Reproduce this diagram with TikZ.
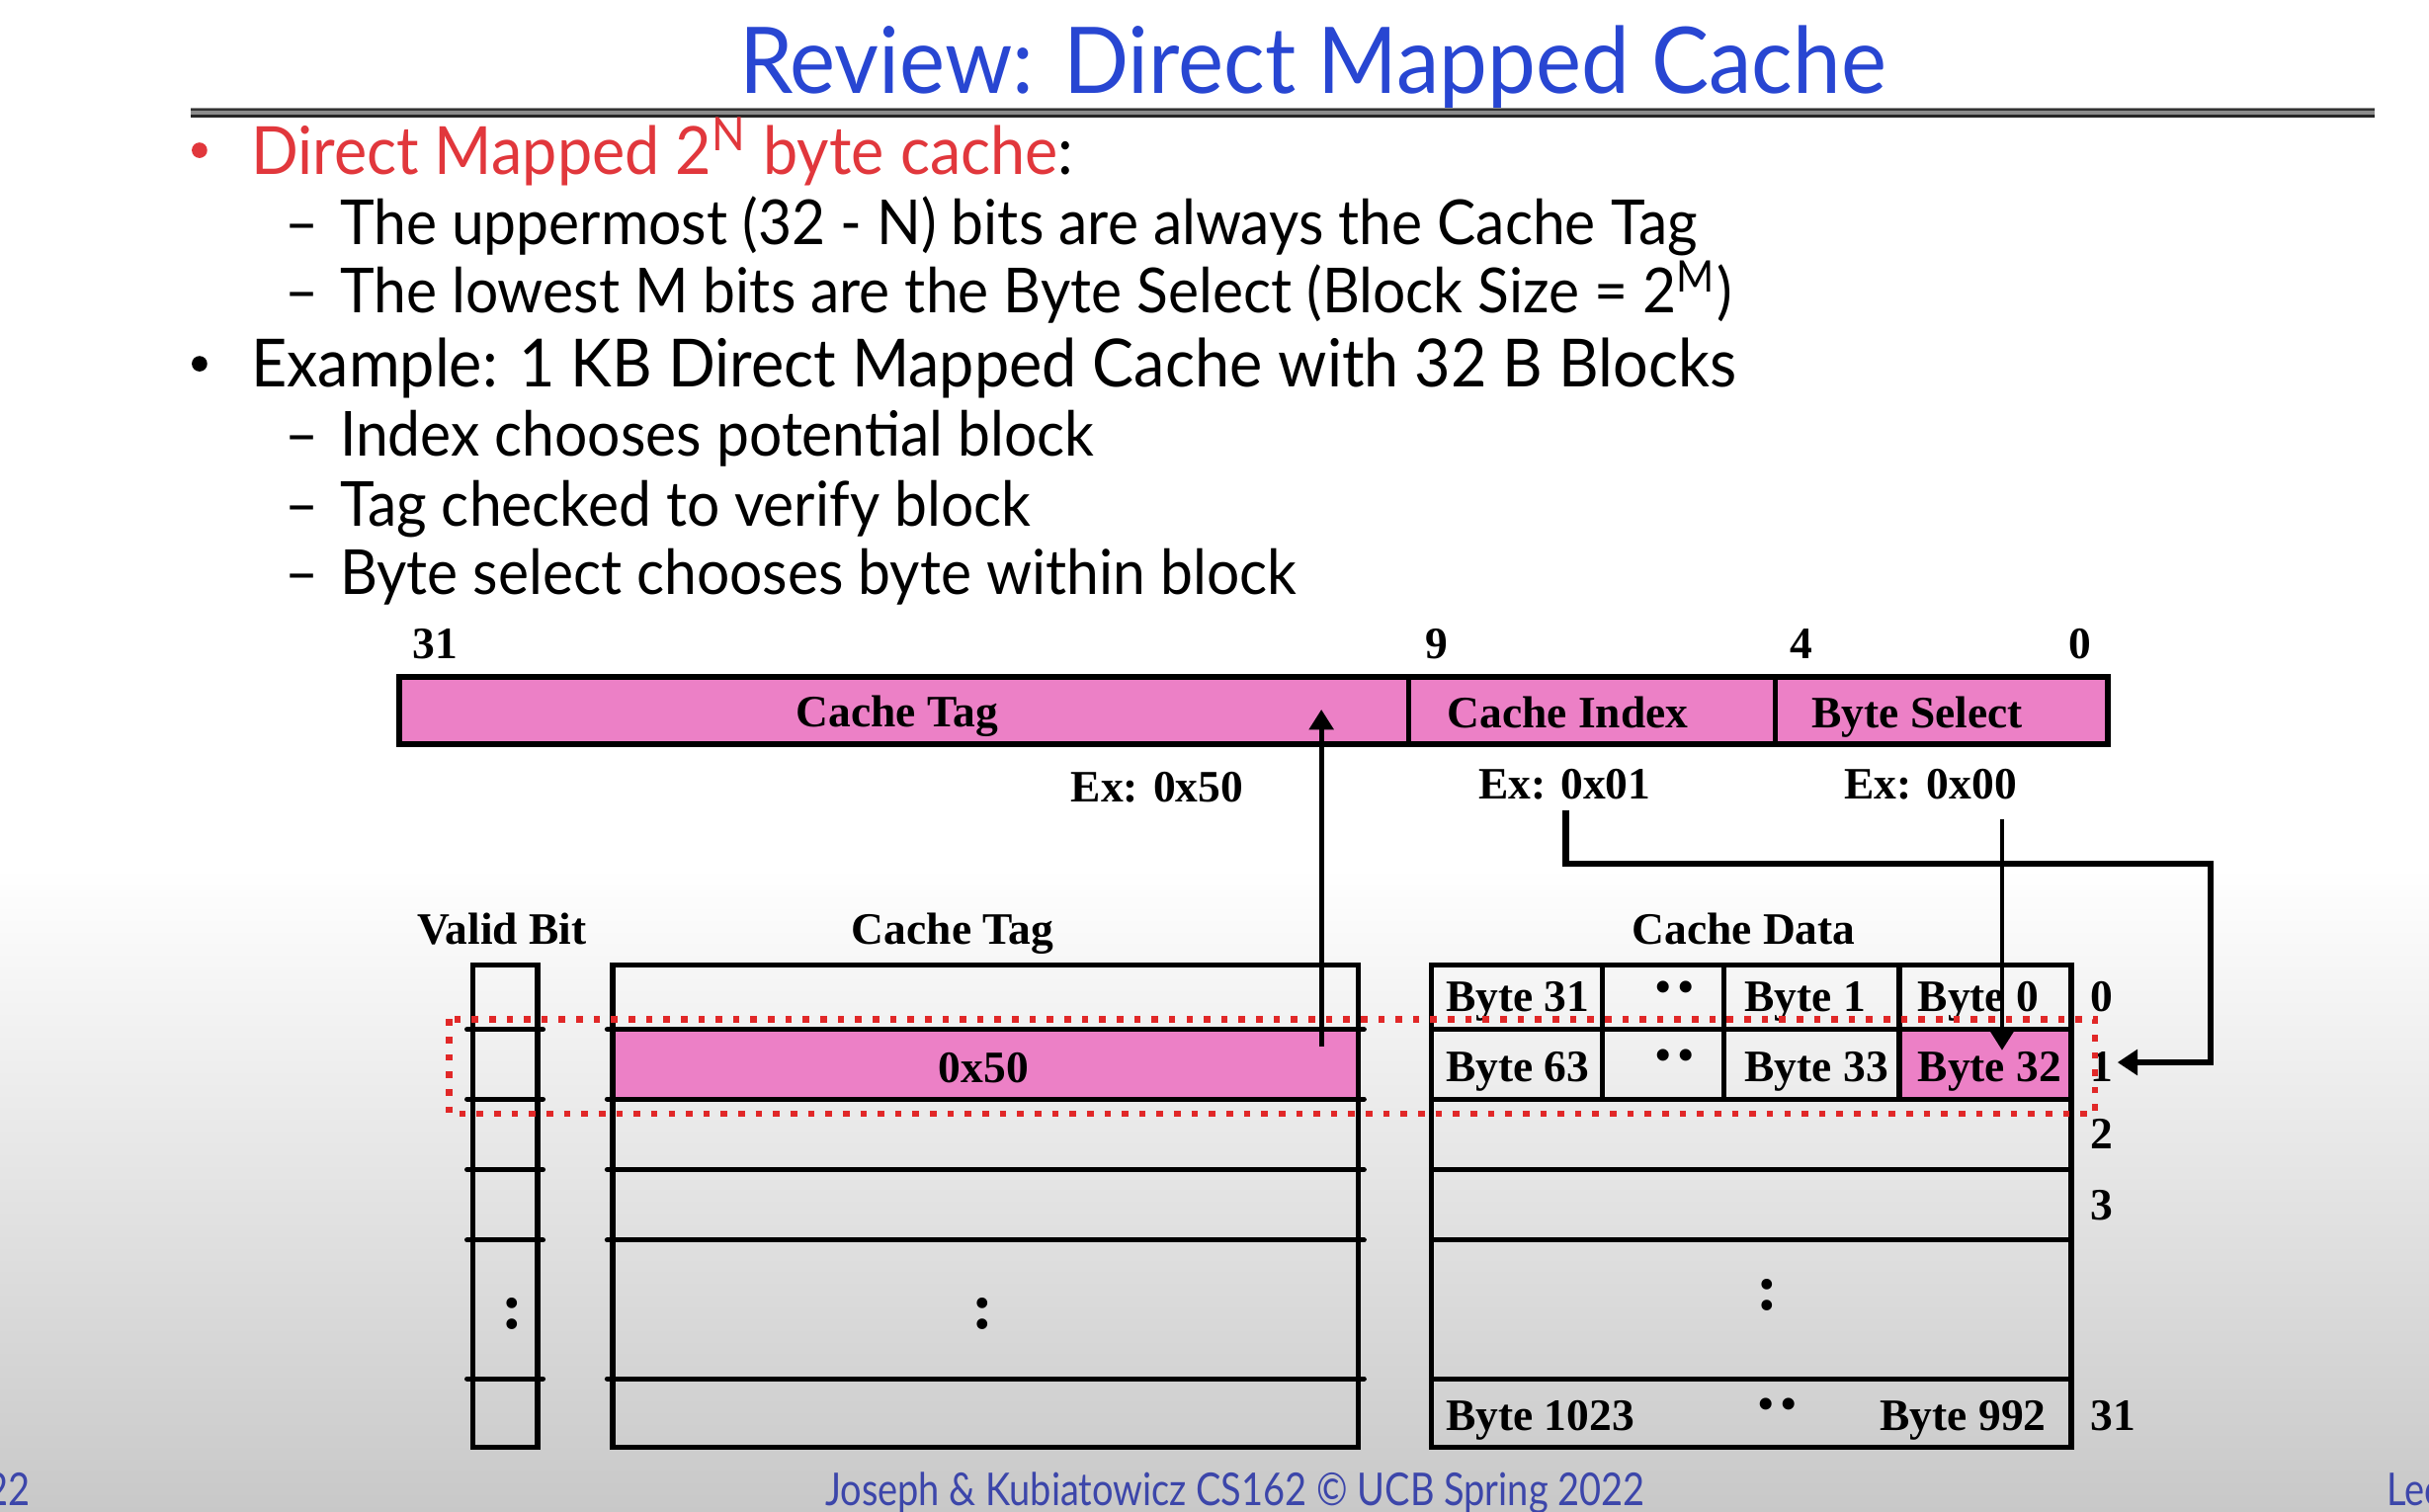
\documentclass[tikz,border=0pt]{standalone}
\usepackage{fontspec}
\setmainfont{Liberation Serif}
\newfontfamily\slidefont[FakeStretch=0.935]{Lato}
\newfontfamily\footfont[FakeStretch=0.83]{Lato}
\usetikzlibrary{arrows.meta}

\definecolor{titleblue}{RGB}{40,70,210}
\definecolor{bulletred}{RGB}{225,55,60}
\definecolor{fieldpink}{RGB}{236,128,198}
\definecolor{footblue}{RGB}{60,70,170}
\definecolor{hilite}{RGB}{225,40,40}
\definecolor{shadegray}{RGB}{200,200,200}

\tikzset{
  slidetitle/.style={anchor=base west, inner sep=0pt, text=titleblue,
    font=\slidefont\fontsize{16.9}{20}\selectfont},
  lvlone/.style={anchor=base west, inner sep=0pt,
    font=\slidefont\fontsize{12.2}{14}\selectfont},
  lvltwo/.style={anchor=base west, inner sep=0pt,
    font=\slidefont\fontsize{11.4}{14}\selectfont},
  footer/.style={anchor=base west, inner sep=0pt, text=footblue,
    font=\footfont\fontsize{8.3}{10}\selectfont},
  lbl/.style={inner sep=0pt, font=\bfseries\fontsize{8.25}{10}\selectfont},
  twodots/.style={inner sep=0pt, font=\bfseries\fontsize{8}{10}\selectfont},
  vdots/.style={inner sep=0pt, font=\bfseries\fontsize{12}{14}\selectfont},
  grid/.style={line width=0.95pt},
  rowline/.style={line width=0.95pt, line cap=round},
  barline/.style={line width=1pt},
  conn/.style={line width=0.85pt, -{Triangle[length=3.7pt,width=4.4pt]}},
  idxconn/.style={line width=1.2pt, -{Triangle[length=3.7pt,width=4.6pt]}},
  hilitebox/.style={draw=hilite, line width=1.2pt, dash pattern=on 1.2pt off 2.0pt}
}

\begin{document}
\begin{tikzpicture}[x=0.01cm,y=-0.01cm]
  \useasboundingbox (0,0) rectangle (1568,976);
  \clip (0,0) rectangle (1568,976);

  % backdrop: white, darkening towards the bottom
  \fill[white] (0,0) rectangle (1568,976);
  \shade[top color=white, bottom color=shadegray] (0,560) rectangle (1568,976);

  % title and rule
  \node[slidetitle] (title) at (476.5,60.6) {Review: Direct Mapped Cache};
  \fill[black!45] (123,69.5) rectangle (1533,76);
  \draw[black!80, line width=0.4pt] (123,70.6) -- (1533,70.6);
  \draw[black!85, line width=0.5pt] (123,74.8) -- (1533,74.8);

  % bullet list
  \fill[bulletred] (128.8,97) circle (5);
  \node[lvlone, text=bulletred] (b1) at (161.4,112.3)
    {Direct Mapped 2\textsuperscript{N} byte cache\textcolor{black}{:}};
  \node[lvltwo] (d1) at (183.5,157.6) {–};
  \node[lvltwo] (s1) at (218.8,157.6) {The uppermost (32 - N) bits are always the Cache Tag};
  \node[lvltwo] (d2) at (183.5,202.2) {–};
  \node[lvltwo] (s2) at (218.8,202.2) {The lowest M bits are the Byte Select (Block Size = 2\textsuperscript{M})};
  \fill[black] (128.8,234.8) circle (5);
  \node[lvlone] (b2) at (161.4,250) {Example: 1 KB Direct Mapped Cache with 32 B Blocks};
  \node[lvltwo] (d3) at (183.5,294.7) {–};
  \node[lvltwo] (s3) at (218.8,294.7) {Index chooses potential block};
  \node[lvltwo] (d4) at (183.5,340) {–};
  \node[lvltwo] (s4) at (218.8,340) {Tag checked to verify block};
  \node[lvltwo] (d5) at (183.5,384) {–};
  \node[lvltwo] (s5) at (218.8,384) {Byte select chooses byte within block};

  % address fields
  \node[lbl, anchor=base] (bit31) at (281,425) {31};
  \node[lbl, anchor=base] (bit9) at (927.6,425) {9};
  \node[lbl, anchor=base] (bit4) at (1163,425) {4};
  \node[lbl, anchor=base] (bit0) at (1343,425) {0};
  \fill[fieldpink] (258,437) rectangle (1360.6,480.5);
  \draw[barline] (909.5,437) -- (909.5,480.5);
  \draw[barline] (1146,437) -- (1146,480.5);
  \draw[barline, line width=1.1pt] (258,437) rectangle (1360.6,480.5);
  \node[lbl, anchor=base] (fTag) at (579,469) {Cache Tag};
  \node[lbl, anchor=base] (fIdx) at (1012,470) {Cache Index};
  \node[lbl, anchor=base] (fByte) at (1237.6,470) {Byte Select};
  \node[lbl, anchor=base] (exTag) at (747,517.8) {Ex: 0x50};
  \node[lbl, anchor=base] (exIdx) at (1010,515.6) {Ex: 0x01};
  \node[lbl, anchor=base] (exByte) at (1246.3,515.6) {Ex: 0x00};

  % column headings
  \node[lbl, anchor=base] (hValid) at (324,609.5) {Valid Bit};
  \node[lbl, anchor=base] (hTag) at (615,609.5) {Cache Tag};
  \node[lbl, anchor=base] (hData) at (1125.6,609.5) {Cache Data};

  % highlighted cells
  \fill[fieldpink] (395.5,664.5) rectangle (877,709.5);
  \fill[fieldpink] (1226,664.5) rectangle (1337,709.5);

  % valid bit and tag columns
  \draw[grid] (305,623) rectangle (347,934);
  \draw[grid] (395.5,623) rectangle (877,934);
  \foreach \yy in {664.5,709.5,755,800.5,890} {
    \draw[rowline] (301.5,\yy) -- (350.5,\yy);
    \draw[rowline] (392,\yy) -- (880.5,\yy);
  }
  \node[lbl, anchor=base] (tagVal) at (635,699) {0x50};
  \node[vdots] (vDots) at (331,848) {:};
  \node[vdots] (tDots) at (634.7,848) {:};

  % data array
  \draw[grid] (924,623) rectangle (1337,934);
  \foreach \yy in {664.5,709.5,755,800.5,890}
    \draw[grid] (924,\yy) -- (1337,\yy);
  \foreach \xx in {1034.5,1113,1226}
    \draw[grid] (\xx,623) -- (\xx,709.5);
  \node[lbl, anchor=base west] (b31) at (932.6,653) {Byte 31};
  \node[twodots] (r0dots) at (1081,640) {•\,•};
  \node[lbl, anchor=base west] (b1c) at (1125.6,653) {Byte 1};
  \node[lbl, anchor=base west] (b0) at (1237.3,653) {Byte 0};
  \node[lbl, anchor=base west] (b63) at (932.6,698) {Byte 63};
  \node[twodots] (r1dots) at (1081,684) {•\,•};
  \node[lbl, anchor=base west] (b33) at (1125.6,698) {Byte 33};
  \node[lbl, anchor=base west] (b32) at (1237.3,698) {Byte 32};
  \node[vdots] (dDots) at (1141,836) {:};
  \node[lbl, anchor=base west] (b1023) at (932.6,923.4) {Byte 1023};
  \node[twodots] (r31dots) at (1147.5,909) {•\,•};
  \node[lbl, anchor=base east] (b992) at (1321.5,923.4) {Byte 992};

  % row numbers
  \node[lbl, anchor=base west] (row0) at (1349,653) {0};
  \node[lbl, anchor=base west] (row1) at (1349,698) {1};
  \node[lbl, anchor=base west] (row2) at (1349,741.7) {2};
  \node[lbl, anchor=base west] (row3) at (1349,787.7) {3};
  \node[lbl, anchor=base west] (row31) at (1349,923.4) {31};

  % selected line
  \draw[hilitebox] (290,658) rectangle (1352.4,719);

  % connectors
  \coordinate (tagSrc) at (853,675.6);
  \coordinate (tagDst) at (853,458);
  \coordinate (idxSrc) at (1010.6,523);
  \coordinate (idxBend) at (1427,557.5);
  \coordinate (rowIn) at (1366.9,685.8);
  \coordinate (bsSrc) at (1292.4,529);
  \coordinate (bsDst) at (1292.4,678);
  \draw[conn] (tagSrc) -- (tagDst);
  \draw[idxconn] (idxSrc) |- (idxBend) |- (rowIn);
  \draw[conn] (bsSrc) -- (bsDst);

  % footer
  \node[footer, anchor=base east] (pgno) at (20,971.6) {22};
  \node[footer] (credit) at (532,971.6) {Joseph \& Kubiatowicz CS162 © UCB Spring 2022};
  \node[footer] (lec) at (1540,971.6) {Lec};
\end{tikzpicture}
\end{document}
